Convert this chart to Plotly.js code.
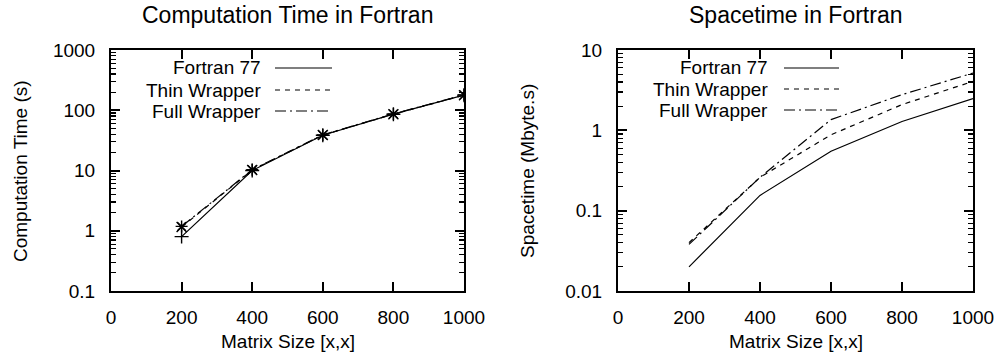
<!DOCTYPE html>
<html>
<head>
<meta charset="utf-8">
<script src="https://cdn.plot.ly/plotly-3.0.1.min.js"></script>
<style>html,body{margin:0;padding:0;background:#fff;}#chart{width:998px;height:355px;}</style>
</head>
<body>
<div id="chart"></div>
<script>
// ---- data ----
const matrixSizes = [200, 400, 600, 800, 1000];
const seriesNames = ["Fortran 77", "Thin Wrapper", "Full Wrapper"];
const timeF77  = [0.80, 10.0, 38.5, 86, 178];
const timeThin = [1.15, 10.2, 38.8, 86, 178];
const timeFull = [1.18, 10.3, 39.0, 87, 180];
const spaceF77  = [0.020, 0.155, 0.55, 1.29, 2.48];
const spaceThin = [0.040, 0.26, 0.88, 2.09, 4.07];
const spaceFull = [0.038, 0.26, 1.36, 2.78, 5.17];
const xTickVals = [0, 200, 400, 600, 800, 1000];
const xTickText = ["0", "200", "400", "600", "800", "1000"];
const timeTickVals = [0.1, 1, 10, 100, 1000];
const timeTickText = ["0.1", "1", "10", "100", "1000"];
const spaceTickVals = [0.01, 0.1, 1, 10];
const spaceTickText = ["0.01", "0.1", "1", "10"];
const titles = ["Computation Time in Fortran", "Spacetime in Fortran"];
const yTitles = ["Computation Time (s)", "Spacetime (Mbyte.s)"];
const xTitle = "Matrix Size [x,x]";

// ---- layout helpers ----
const W = 998, H = 355, MT = 50, MB = 64;
const PH = H - MT - MB;
const px = v => v / W;
const py = v => (H - MB - v) / PH;
const FONT = "Liberation Sans, Arial, Helvetica, sans-serif";
const dashes = ["solid", "5px,5px", "11px,4px,2px,4px"];

// minor log ticks (2..9 in each decade) derived from the major decade ticks
function minorVals(majors) {
  const out = [];
  majors.slice(0, -1).forEach(m => { for (let k = 2; k <= 9; k++) out.push(m * k); });
  return out;
}

function line(x, y, i, xa, ya) {
  return {x: x, y: y, xaxis: xa, yaxis: ya, mode: "lines", name: seriesNames[i],
    showlegend: false, line: {color: "black", width: 1.2, dash: dashes[i]}};
}
function marks(x, y, sym, xa, ya) {
  return {x: x, y: y, xaxis: xa, yaxis: ya, mode: "markers", showlegend: false, hoverinfo: "skip",
    marker: {symbol: sym, size: 10, color: "black", line: {color: "black", width: 1.4}}};
}

const data = [
  line(matrixSizes, timeF77, 0, "x", "y"),
  line(matrixSizes, timeThin, 1, "x", "y"),
  line(matrixSizes, timeFull, 2, "x", "y"),
  marks(matrixSizes, timeF77, "cross-thin", "x", "y"),
  marks(matrixSizes, timeThin, "x-thin", "x", "y"),
  marks(matrixSizes, timeFull, "asterisk", "x", "y"),
  line(matrixSizes, spaceF77, 0, "x2", "y2"),
  line(matrixSizes, spaceThin, 1, "x2", "y2"),
  line(matrixSizes, spaceFull, 2, "x2", "y2")
];

function xAxis(dom, anchor) {
  return {domain: dom, anchor: anchor, range: [0, 1000], tickmode: "array", tickvals: xTickVals, ticktext: xTickText,
    showline: true, linecolor: "black", linewidth: 2, mirror: "ticks", ticks: "inside", ticklen: 9,
    tickwidth: 2, tickcolor: "black", showgrid: false, zeroline: false, ticklabelstandoff: 8,
    tickfont: {family: FONT, size: 19, color: "black"}};
}
function yAxis(rng, tv, tt, anchor) {
  return {type: "log", range: rng, anchor: anchor, tickmode: "array", tickvals: tv, ticktext: tt,
    showline: true, linecolor: "black", linewidth: 2, mirror: "ticks", ticks: "inside", ticklen: 9,
    tickwidth: 2, tickcolor: "black", showgrid: false, zeroline: false, ticklabelstandoff: 10,
    minor: {tickmode: "array", tickvals: minorVals(tv), ticks: "inside", ticklen: 5, tickwidth: 1.2,
            tickcolor: "black", showgrid: false},
    tickfont: {family: FONT, size: 19, color: "black"}};
}

const annotations = [];
const shapes = [];
const plots = [{x0: 111, x1: 464, textRight: 263, sx0: 275, sx1: 332, rows: [68, 90, 111]},
               {x0: 618, x1: 973, textRight: 770, sx0: 784, sx1: 839, rows: [68, 89, 110]}];
const yTitleX = [20, 527];
plots.forEach((p, k) => {
  annotations.push({text: titles[k], xref: "paper", yref: "paper", x: px((p.x0 + p.x1) / 2), y: py(15),
    xanchor: "center", yanchor: "middle", showarrow: false, font: {family: FONT, size: 23, color: "black"}});
  annotations.push({text: xTitle, xref: "paper", yref: "paper", x: px((p.x0 + p.x1) / 2), y: py(341),
    xanchor: "center", yanchor: "middle", showarrow: false, font: {family: FONT, size: 19, color: "black"}});
  annotations.push({text: yTitles[k], xref: "paper", yref: "paper", x: px(yTitleX[k]), y: py(171),
    xanchor: "center", yanchor: "middle", textangle: -90, showarrow: false, font: {family: FONT, size: 19, color: "black"}});
  seriesNames.forEach((nm, i) => {
    annotations.push({text: nm, xref: "paper", yref: "paper", x: px(p.textRight), y: py(p.rows[i]),
      xanchor: "right", yanchor: "middle", showarrow: false, font: {family: FONT, size: 19, color: "black"}});
    shapes.push({type: "line", xref: "paper", yref: "paper", x0: px(p.sx0), x1: px(p.sx1),
      y0: py(p.rows[i]), y1: py(p.rows[i]), line: {color: "black", width: 1.2, dash: dashes[i]}});
  });
});

const layout = {
  width: W, height: H, margin: {l: 0, r: 0, t: MT, b: MB},
  paper_bgcolor: "white", plot_bgcolor: "white", showlegend: false,
  font: {family: FONT, color: "black"},
  xaxis: xAxis([px(111), px(464)], "y"),
  yaxis: yAxis([-1, 3], timeTickVals, timeTickText, "x"),
  xaxis2: xAxis([px(618), px(973)], "y2"),
  yaxis2: yAxis([-2, 1], spaceTickVals, spaceTickText, "x2"),
  annotations: annotations, shapes: shapes
};
Plotly.newPlot("chart", data, layout, {staticPlot: true});
</script>
</body>
</html>
